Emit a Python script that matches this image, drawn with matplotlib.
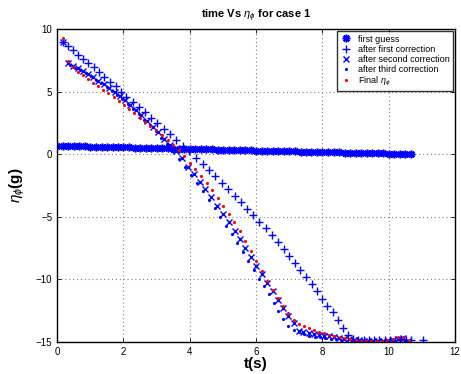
import numpy as np
import matplotlib.pyplot as plt

plt.rcParams['font.family'] = ['Liberation Sans', 'DejaVu Sans']
plt.rcParams['mathtext.fontset'] = 'custom'
plt.rcParams['mathtext.rm'] = 'Liberation Sans'
plt.rcParams['mathtext.it'] = 'Liberation Sans:italic'

# first guess
t_guess = [0.0, 0.17, 0.33, 0.5, 0.67, 0.84, 1.0, 1.17, 1.34, 1.5, 1.67, 1.84, 2.0,
           2.17, 2.34, 2.5, 2.67, 2.84, 3.0, 3.17, 3.34, 3.5, 3.67, 3.84, 4.0, 4.17,
           4.34, 4.5, 4.67, 4.84, 5.0, 5.17, 5.34, 5.5, 5.67, 5.84, 6.0, 6.17, 6.34,
           6.5, 6.67, 6.84, 7.0, 7.17, 7.34, 7.5, 7.67, 7.84, 8.0, 8.17, 8.34, 8.5,
           8.67, 8.84, 9.0, 9.17, 9.34, 9.5, 9.67, 9.84, 10.0, 10.17, 10.34, 10.5, 10.67]
y_guess = [0.66, 0.66, 0.65, 0.64, 0.63, 0.62, 0.61, 0.60, 0.59, 0.58, 0.57, 0.56, 0.55,
           0.54, 0.53, 0.52, 0.51, 0.50, 0.48, 0.47, 0.46, 0.45, 0.44, 0.43, 0.42, 0.41,
           0.40, 0.39, 0.38, 0.36, 0.35, 0.34, 0.33, 0.32, 0.31, 0.30, 0.29, 0.28, 0.27,
           0.26, 0.25, 0.24, 0.23, 0.22, 0.21, 0.20, 0.19, 0.18, 0.17, 0.16, 0.15, 0.14,
           0.13, 0.12, 0.11, 0.10, 0.09, 0.08, 0.07, 0.06, 0.05, 0.04, 0.03, 0.02, 0.01]

# after first correction
t_c1 = [0.17, 0.34, 0.48, 0.63, 0.79, 0.94, 1.10, 1.26, 1.42, 1.58, 1.76, 1.92, 2.08,
        2.28, 2.46, 2.65, 2.84, 3.02, 3.21, 3.40, 3.59, 3.79, 3.97, 4.18, 4.39, 4.58,
        4.76, 4.97, 5.16, 5.35, 5.54, 5.73, 5.91, 6.10, 6.29, 6.47, 6.65, 6.83, 7.00,
        7.16, 7.33, 7.51, 7.68, 7.83, 7.99, 8.15, 8.31, 8.46, 8.61, 8.76, 8.92, 9.08,
        9.24, 9.40, 9.56, 9.72, 9.88, 10.04, 10.20, 10.36, 10.52, 10.68, 11.04]
y_c1 = [8.98, 8.66, 8.32, 7.97, 7.65, 7.30, 6.94, 6.56, 6.19, 5.79, 5.42, 4.99, 4.59,
        4.19, 3.80, 3.35, 2.92, 2.47, 2.05, 1.62, 1.14, 0.66, 0.26, -0.27, -0.77, -1.25,
        -1.73, -2.26, -2.79, -3.30, -3.83, -4.34, -4.87, -5.40, -5.93, -6.46, -6.99,
        -7.58, -8.12, -8.70, -9.23, -9.81, -10.35, -10.96, -11.54, -12.16, -12.64,
        -13.22, -13.88, -14.44, -14.80, -14.85, -14.87, -14.88, -14.88, -14.88, -14.88,
        -14.88, -14.88, -14.88, -14.88, -14.88, -14.88]

# after second correction
t_c2 = [0.17, 0.33, 0.47, 0.62, 0.78, 0.93, 1.08, 1.24, 1.40, 1.56, 1.73, 1.89, 2.05,
        2.21, 2.37, 2.54, 2.70, 2.88, 3.04, 3.21, 3.40, 3.57, 3.76, 3.94, 4.12, 4.30,
        4.47, 4.65, 4.82, 5.00, 5.17, 5.35, 5.51, 5.68, 5.85, 6.01, 6.17, 6.33, 6.50,
        6.66, 6.81, 6.97, 7.13, 7.29, 7.43, 7.59, 7.74, 7.89, 8.04, 8.19, 8.34, 8.49,
        8.64, 8.79, 8.94, 9.09, 9.24, 9.39, 9.54, 9.69, 9.84, 9.99, 10.14, 10.29,
        10.44, 10.59]
y_c2 = [9.0, 7.31, 7.07, 6.86, 6.67, 6.43, 6.16, 5.88, 5.62, 5.31, 4.99, 4.67, 4.33,
        3.93, 3.50, 3.10, 2.66, 2.20, 1.76, 1.25, 0.75, 0.25, -0.30, -0.99, -1.58,
        -2.18, -2.80, -3.43, -4.10, -4.79, -5.45, -6.12, -6.80, -7.50, -8.20, -8.91,
        -9.58, -10.26, -10.90, -11.62, -12.28, -12.90, -13.53, -14.15, -14.23, -14.33,
        -14.36, -14.44, -14.50, -14.55, -14.62, -14.68, -14.74, -14.80, -14.85, -14.88,
        -14.90, -14.92, -14.93, -14.94, -14.94, -14.90, -14.85, -14.80, -14.72, -14.90]

# after third correction
t_c3 = [0.17, 0.38, 0.54, 0.70, 0.86, 1.01, 1.17, 1.33, 1.49, 1.65, 1.81, 1.97, 2.13,
        2.30, 2.46, 2.63, 2.80, 2.97, 3.14, 3.31, 3.49, 3.67, 3.86, 4.04, 4.22, 4.40,
        4.57, 4.75, 4.92, 5.09, 5.26, 5.43, 5.60, 5.77, 5.93, 6.09, 6.24, 6.39, 6.53,
        6.67, 6.81, 6.97, 7.13, 7.29, 7.45, 7.61, 7.77, 7.93, 8.09, 8.25, 8.41, 8.57,
        8.73, 8.89, 9.05, 9.21, 9.37, 9.53, 9.69, 9.85, 10.01, 10.17, 10.33, 10.49]
y_c3 = [9.0, 7.15, 6.92, 6.70, 6.48, 6.22, 5.95, 5.68, 5.38, 5.06, 4.74, 4.40, 4.05,
        3.62, 3.20, 2.76, 2.30, 1.82, 1.32, 0.80, 0.25, -0.35, -1.00, -1.65, -2.30,
        -2.95, -3.62, -4.30, -5.00, -5.70, -6.40, -7.10, -7.82, -8.55, -9.25, -9.95,
        -10.55, -11.20, -11.87, -12.50, -13.15, -13.70, -14.05, -14.25, -14.40, -14.50,
        -14.58, -14.64, -14.70, -14.75, -14.80, -14.85, -14.90, -14.92, -14.94, -14.95,
        -14.95, -14.95, -14.94, -14.92, -14.88, -14.82, -14.78, -14.90]

# final eta_phi
t_fin = [0.17, 0.33, 0.48, 0.63, 0.78, 0.93, 1.09, 1.24, 1.39, 1.54, 1.70, 1.86, 2.01,
         2.17, 2.33, 2.49, 2.65, 2.81, 2.98, 3.17, 3.33, 3.49, 3.67, 3.84, 4.00, 4.17,
         4.35, 4.51, 4.68, 4.84, 5.00, 5.17, 5.34, 5.50, 5.67, 5.84, 6.01, 6.17, 6.33,
         6.50, 6.66, 6.82, 6.97, 7.13, 7.29, 7.44, 7.59, 7.75, 7.90, 8.05, 8.20, 8.36,
         8.52, 8.68, 8.84, 9.00, 9.16, 9.32, 9.48, 9.64, 9.80, 9.96, 10.12, 10.28,
         10.44, 10.60]
y_fin = [9.30, 7.45, 7.00, 6.60, 6.32, 6.02, 5.73, 5.45, 5.16, 4.86, 4.56, 4.27, 3.97,
         3.63, 3.28, 2.93, 2.60, 2.25, 1.90, 1.54, 1.15, 0.74, 0.34, -0.15, -0.67, -1.18,
         -1.72, -2.26, -2.85, -3.46, -4.12, -4.77, -5.45, -6.17, -6.97, -7.75, -8.55,
         -9.35, -10.12, -10.82, -11.50, -12.15, -12.70, -13.22, -13.55, -13.75, -13.92,
         -14.05, -14.18, -14.32, -14.45, -14.55, -14.65, -14.72, -14.80, -14.86, -14.90,
         -14.92, -14.93, -14.93, -14.92, -14.85, -14.75, -14.65, -14.62, -14.85]

fig = plt.figure(figsize=(4.61, 3.74), dpi=100)
ax = fig.add_axes([0.124, 0.086, 0.863, 0.836])

ax.plot(t_guess, y_guess, linestyle='none', marker=(8, 2, 0), markersize=5.5,
        color='blue', markeredgewidth=1.2, label='first guess')
ax.plot(t_c1, y_c1, linestyle='none', marker='+', markersize=6,
        color='blue', markeredgewidth=1.0, label='after first correction')
ax.plot(t_c2, y_c2, linestyle='none', marker='x', markersize=4,
        color='blue', markeredgewidth=1.0, label='after second correction')
ax.plot(t_c3, y_c3, linestyle='none', marker='.', markersize=2.5,
        color='blue', label='after third correction')
ax.plot(t_fin, y_fin, linestyle='none', marker='.', markersize=2.5,
        color='red', label=r'Final $\eta_\phi$')

ax.set_xlim(0, 12)
ax.set_ylim(-15, 10)
ax.set_xticks(range(0, 13, 2))
ax.set_yticks([-15, -10, -5, 0, 5, 10])
ax.set_yticklabels(['\u221215', '\u221210', '\u22125', '0', '5', '10'])
ax.tick_params(direction='in', top=True, right=True, labelsize=7, length=3, width=0.6)
ax.grid(True, linestyle=(0, (1, 2.5)), color='0.5', linewidth=0.8)
for s in ax.spines.values():
    s.set_linewidth(1.0)

ax.set_title(r'time Vs $\eta_\phi$ for case 1', fontsize=8, fontweight='bold', pad=8)
ax.set_xlabel('t(s)', fontsize=11, fontweight='bold', labelpad=0)
ax.set_ylabel(r'$\eta_\phi$(g)', fontsize=11, fontweight='bold', labelpad=6)

leg = ax.legend(loc='upper right', fontsize=6.5, frameon=True, fancybox=False,
                edgecolor='black', borderpad=0.35, labelspacing=0.12,
                handlelength=1.4, handletextpad=0.6, borderaxespad=0.25)
leg.get_frame().set_linewidth(1.0)

fig.savefig('out.png', dpi=100)
